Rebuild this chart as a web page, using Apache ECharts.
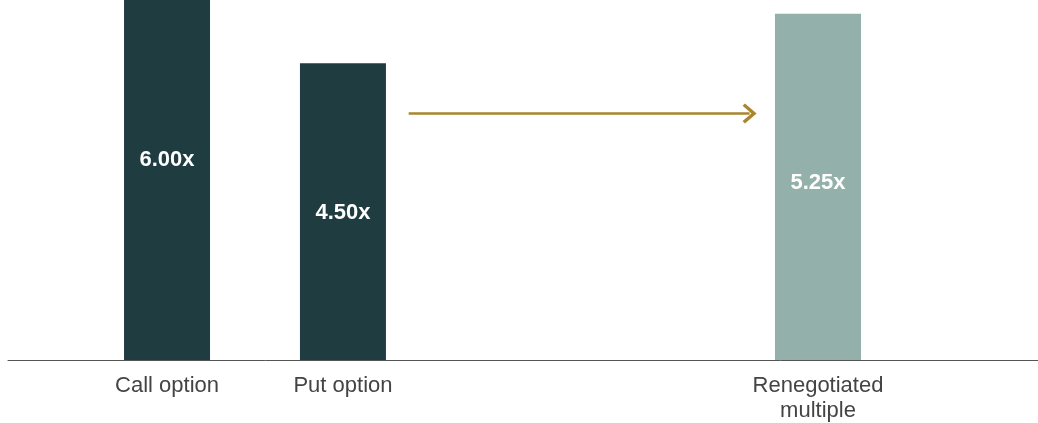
<!DOCTYPE html>
<html>
<head>
<meta charset="utf-8">
<script src="https://cdn.jsdelivr.net/npm/echarts@6/dist/echarts.min.js"></script>
<style>html,body{margin:0;padding:0;background:#fff}#c{width:1038px;height:423px}</style>
</head>
<body>
<div id="c"></div>
<script>
var categories = ['Call option', 'Put option', 'Renegotiated\nmultiple'];
var values = [6.00, 4.50, 5.25];
var valueLabels = ['6.00x', '4.50x', '5.25x'];
var xPositions = [15.44, 32.52, 78.64];
var arrowFrom = [38.9, 3.74];
var arrowTo = [72.0, 3.74];

var barColors = ['#1f3c40', '#1f3c40', '#93b1aa'];
var labelOffsets = [[0, -20], [0, 1], [0, -4]];

var chart = echarts.init(document.getElementById('c'), null, {renderer: 'canvas'});
var barData = values.map(function (v, i) {
  return {
    value: [xPositions[i], v],
    itemStyle: {color: barColors[i]},
    label: {offset: labelOffsets[i]}
  };
});
chart.setOption({
  animation: false,
  grid: {left: 8, right: 0, top: 0, bottom: 62, containLabel: false},
  xAxis: {
    type: 'value', min: 0, max: 100,
    splitLine: {show: false},
    axisTick: {show: false},
    axisLine: {show: true, onZero: false, lineStyle: {color: '#555', width: 1}},
    axisLabel: {
      customValues: xPositions,
      showMinLabel: true, showMaxLabel: true,
      margin: 13,
      color: '#444', fontSize: 22, lineHeight: 25,
      fontFamily: 'Liberation Sans, Arial, sans-serif',
      verticalAlign: 'top',
      formatter: function (v) {
        var idx = xPositions.indexOf(v);
        return idx >= 0 ? categories[idx] : '';
      }
    }
  },
  yAxis: {
    type: 'value', min: 0, max: 5.46, show: false,
    splitLine: {show: false}
  },
  series: [{
    type: 'bar',
    barWidth: 86,
    clip: true,
    data: barData,
    label: {
      show: true, position: 'inside',
      formatter: function (p) { return valueLabels[p.dataIndex]; },
      color: '#fff', fontSize: 22, fontWeight: 'bold',
      fontFamily: 'Liberation Sans, Arial, sans-serif'
    },
    markLine: {
      silent: true,
      symbol: ['none', 'path://M0,10 L10,0 L20,10 L17.6,12 L10,4.4 L2.4,12 Z'],
      symbolSize: [20, 14],
      label: {show: false},
      lineStyle: {color: '#a8862e', width: 2.5, type: 'solid'},
      data: [[{coord: arrowFrom}, {coord: arrowTo}]]
    }
  }]
});
</script>
</body>
</html>
